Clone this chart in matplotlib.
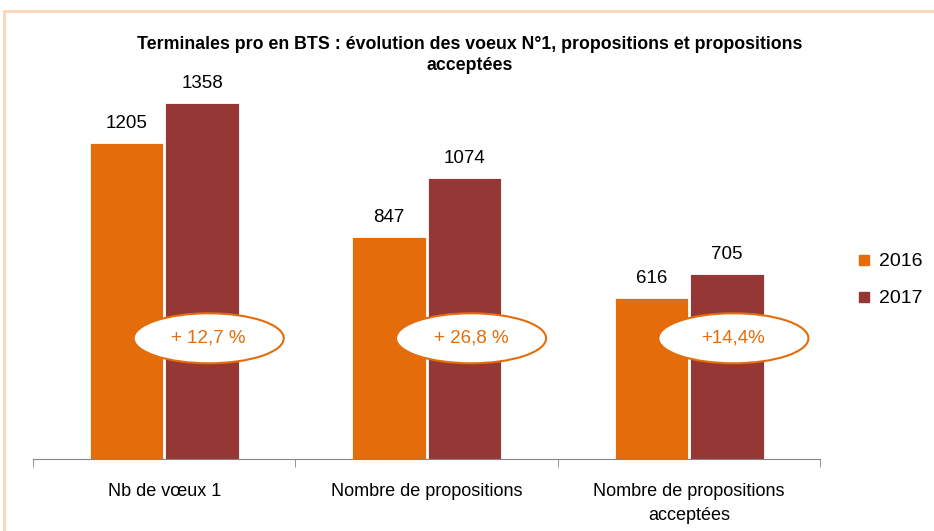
import matplotlib
matplotlib.use("Agg")
import matplotlib.pyplot as plt
from matplotlib.patches import Ellipse, Rectangle
from matplotlib.lines import Line2D
import numpy as np

plt.rcParams['font.family'] = ['Liberation Sans', 'DejaVu Sans']

# Data
categories = ['Nb de vœux 1', 'Nombre de propositions', 'Nombre de propositions\nacceptées']
years = ['2016', '2017']
values_2016 = [1205, 847, 616]
values_2017 = [1358, 1074, 705]
growth_labels = ['+ 12,7 %', '+ 26,8 %', '+14,4%']

COLORS = {
    '2016': '#E46C0A',
    '2017': '#953735',
    'frame': '#FCD5B5',
    'axis': '#868686',
}

fig = plt.figure(figsize=(9.34, 5.31), dpi=100)
ax = fig.add_axes([0.0353, 0.1356, 0.8426, 0.789])

x = np.arange(len(categories))
width = 0.28
ax.bar(x - 0.143, values_2016, width, color=COLORS['2016'], edgecolor='white', linewidth=0.6)
ax.bar(x + 0.145, values_2017, width, color=COLORS['2017'], edgecolor='white', linewidth=0.6)

for xs, vals in [(x - 0.143, values_2016), (x + 0.145, values_2017)]:
    for xi, v in zip(xs, vals):
        ax.annotate(str(v), xy=(xi, v), xytext=(0, 8), textcoords='offset points',
                    ha='center', va='bottom', fontsize=13.5)

# Growth ellipses
for xi, lab in zip(x, growth_labels):
    e = Ellipse((xi + 0.17, 461), 0.572, 191, facecolor='white',
                edgecolor=COLORS['2016'], linewidth=1.5, zorder=3)
    ax.add_patch(e)
    ax.text(xi + 0.17, 461, lab, ha='center', va='center', fontsize=13.5,
            color=COLORS['2016'], zorder=4)

ax.set_xlim(-0.5, 2.5)
ax.set_ylim(0, 1600)
ax.set_yticks([])
for s in ['left', 'right', 'top']:
    ax.spines[s].set_visible(False)
ax.spines['bottom'].set_color(COLORS['axis'])
ax.set_xticks(x)
ax.set_xticklabels(categories, fontsize=13, linespacing=1.6)
ax.tick_params(axis='x', which='major', length=0, pad=17)
ax.set_xticks([-0.5, 0.5, 1.5, 2.5], minor=True)
ax.tick_params(axis='x', which='minor', length=6, color=COLORS['axis'])

# Title
fig.text(0.503, 1 - 36 / 531,
         'Terminales pro en BTS : évolution des voeux N°1, propositions et propositions\nacceptées',
         ha='center', va='top', fontsize=12.8, fontweight='bold', linespacing=1.3)

# Legend
handles = [Line2D([], [], marker='s', linestyle='none', markersize=7,
                  markerfacecolor=COLORS[y], markeredgecolor=COLORS[y]) for y in years]
fig.legend(handles, years, loc='upper left', bbox_to_anchor=(848 / 934, 1 - 245 / 531),
           frameon=False, fontsize=14, handlelength=0.8, handletextpad=0.4,
           labelspacing=1.0, borderaxespad=0)

# Frame
fig.add_artist(Rectangle((4 / 934, -0.1), 1.2, 1.1 - 11 / 531, transform=fig.transFigure,
                         fill=False, edgecolor=COLORS['frame'], linewidth=2, clip_on=False))

fig.savefig('out.png', dpi=100, facecolor='white')
